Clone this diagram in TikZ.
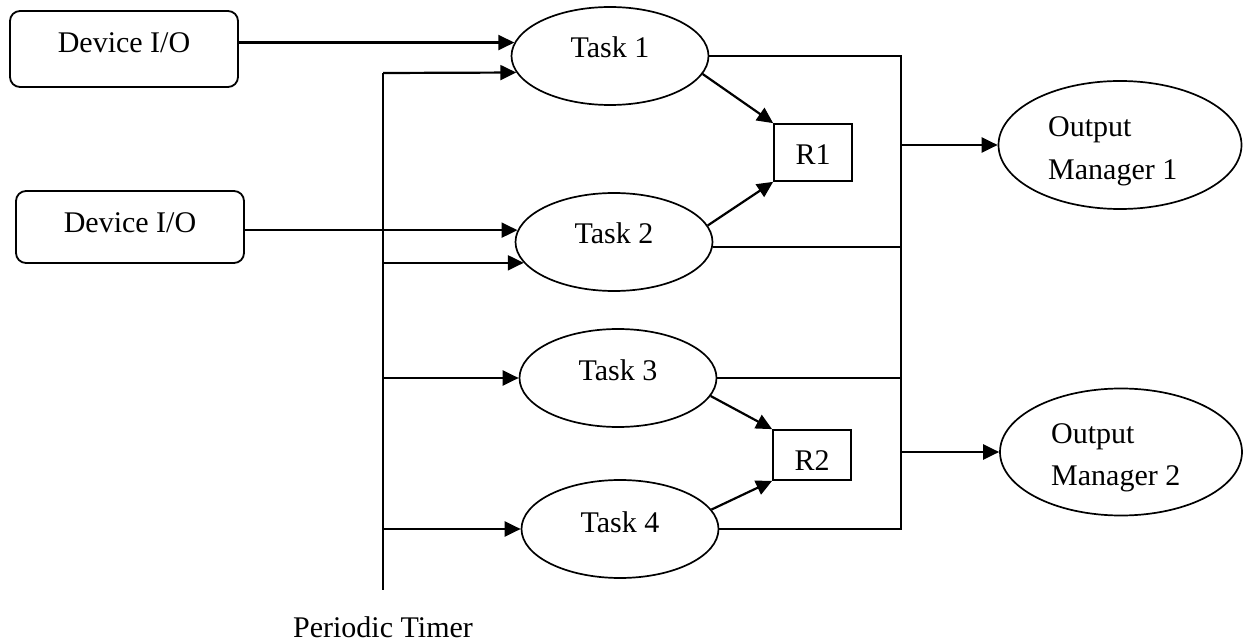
\documentclass[tikz,border=0pt]{standalone}
\usepackage{fontspec}
\setmainfont{Liberation Serif}
\usetikzlibrary{arrows.meta,shapes.geometric}
\begin{document}
\begin{tikzpicture}[x=1pt,y=-1pt,
  lbl/.style={font=\fontsize{30}{36}\selectfont, inner sep=0pt, anchor=base},
  lblw/.style={lbl, anchor=base west},
  devbox/.style={draw, rounded corners=10pt, line width=1.8pt, minimum width=228pt, inner sep=0pt},
  task/.style={draw, ellipse, line width=1.7pt, minimum width=197pt, minimum height=98pt, inner sep=0pt},
  res/.style={draw, rectangle, line width=1.7pt, minimum width=78pt, inner sep=0pt},
  outmgr/.style={draw, ellipse, line width=1.7pt, inner sep=0pt},
  ln/.style={line width=1.6pt},
  arr/.style={line width=2.2pt, -{Triangle[length=16pt,width=15pt]}}]
\useasboundingbox (0,0) rectangle (1243,644);

% input devices
\node[devbox, minimum height=76pt] (b1) at (124,49) {};
\node[devbox, minimum height=72pt] (b2) at (130,227) {};
\node[lbl] at (b1 |- 0,53) {Device I/O};
\node[lbl] at (b2 |- 0,233) {Device I/O};

% tasks
\node[task] (t1) at (610,56) {};
\node[task] (t2) at (614,242) {};
\node[task] (t3) at (618,378) {};
\node[task] (t4) at (620,529) {};
\node[lbl] at (t1 |- 0,58) {Task 1};
\node[lbl] at (t2 |- 0,244) {Task 2};
\node[lbl] at (t3 |- 0,381) {Task 3};
\node[lbl] at (t4 |- 0,532) {Task 4};

% shared resources
\node[res, minimum height=57pt] (r1) at (813,152.5) {};
\node[res, minimum height=50pt] (r2) at (812,455) {};
\node[lbl] at (r1 |- 0,165) {R1};
\node[lbl] at (r2 |- 0,470) {R2};

% output managers
\node[outmgr, minimum width=243pt, minimum height=128pt] (om1) at (1120,145) {};
\node[outmgr, minimum width=242pt, minimum height=127pt] (om2) at (1121,452) {};
\node[lblw] at (1048,137) {Output};
\node[lblw] at (1048,180) {Manager 1};
\node[lblw] at (1051,443) {Output};
\node[lblw] at (1051,485) {Manager 2};

% periodic timer line
\coordinate (tmtop) at (383,73);
\coordinate (tmbot) at (383,590);
\node[lbl] (tmlabel) at (383,637) {Periodic Timer};
\draw[ln] (tmtop) -- (tmbot);

% device inputs
\draw[arr] (b1.east |- t1.172) -- (t1.172);
\draw[arr] (b2.east |- t2.173.5) -- (t2.173.5);

% timer inputs
\draw[arr] (tmtop) -- (t1.190.4);
\draw[arr] (tmtop |- t2.193.3) -- (t2.193.3);
\draw[arr] (tmtop |- t3.west) -- (t3.west);
\draw[arr] (tmtop |- t4.west) -- (t4.west);

% resource accesses
\draw[arr] (t1.-11) -- (r1.north west);
\draw[arr] (t2.10) -- (r1.south west);
\draw[arr] (t3.-11) -- (r2.north west);
\draw[arr] (t4.12) -- (r2.south west);

% output bus
\coordinate (bus) at (901,0);
\draw[ln] (t1.east) -- (t1.east -| bus) -- (t4.east -| bus) -- (t4.east);
\draw[ln] (t2.357) -- (t2.357 -| bus);
\draw[ln] (t3.east) -- (t3.east -| bus);
\draw[arr] (om1.west -| bus) -- (om1.west);
\draw[arr] (om2.west -| bus) -- (om2.west);
\end{tikzpicture}
\end{document}
